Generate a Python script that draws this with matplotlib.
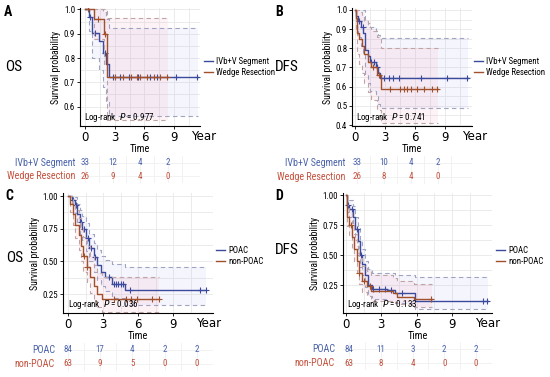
import numpy as np
import matplotlib
matplotlib.use("Agg")
import matplotlib.pyplot as plt
from matplotlib.transforms import blended_transform_factory
from matplotlib.lines import Line2D

plt.rcParams["font.family"] = ["Liberation Sans Narrow", "Roboto Condensed", "Liberation Sans", "DejaVu Sans"]
plt.rcParams["mathtext.fontset"] = "custom"
plt.rcParams["mathtext.it"] = "Liberation Sans Narrow:italic"
plt.rcParams["mathtext.rm"] = "Liberation Sans Narrow"

# ---- panel A: OS, IVb+V Segment vs Wedge Resection ----
a_seg_t = [0, 0.4, 0.7, 1.4, 1.8, 2.1, 2.4]
a_seg_s = [1.0, 0.97, 0.905, 0.87, 0.82, 0.775, 0.72]
a_seg_lo = [1.0, 0.91, 0.80, 0.75, 0.68, 0.62, 0.56]
a_seg_hi = [1.0, 1.0, 1.0, 1.0, 0.99, 0.96, 0.925]
a_seg_end = 11.4
a_seg_cens = [0.5, 1.0, 2.0, 2.8, 3.5, 4.4, 5.3, 6.6, 7.3, 9.2, 11.3]
a_wed_t = [0, 0.9, 1.9, 2.2]
a_wed_s = [1.0, 0.96, 0.90, 0.72]
a_wed_lo = [1.0, 0.88, 0.77, 0.545]
a_wed_hi = [1.0, 1.0, 1.0, 0.965]
a_wed_end = 8.4
a_wed_cens = [0.3, 1.3, 2.0, 3.0, 3.8, 4.6, 5.2, 5.6, 6.3, 7.0, 7.6, 8.3]
a_risk_seg = [33, 12, 4, 2]
a_risk_wed = [26, 9, 4, 0]
a_p = "0.977"

# ---- panel B: DFS, IVb+V Segment vs Wedge Resection ----
b_seg_t = [0, 0.1, 0.3, 0.6, 0.8, 1.0, 1.3, 1.5, 2.1, 2.3, 2.5]
b_seg_s = [1.0, 0.97, 0.94, 0.91, 0.88, 0.79, 0.76, 0.73, 0.70, 0.67, 0.645]
b_seg_lo = [1.0, 0.91, 0.86, 0.81, 0.77, 0.66, 0.62, 0.58, 0.55, 0.51, 0.49]
b_seg_hi = [1.0, 1.0, 1.0, 1.0, 1.0, 0.95, 0.93, 0.91, 0.89, 0.87, 0.855]
b_seg_end = 11.3
b_seg_cens = [0.4, 0.75, 1.6, 1.9, 2.2, 2.9, 3.4, 3.8, 4.4, 6.6, 9.2, 11.2]
b_wed_t = [0, 0.1, 0.2, 0.4, 0.7, 0.9, 1.3, 1.6, 2.2, 2.6]
b_wed_s = [1.0, 0.96, 0.88, 0.85, 0.81, 0.77, 0.73, 0.70, 0.66, 0.59]
b_wed_lo = [1.0, 0.89, 0.77, 0.72, 0.67, 0.62, 0.57, 0.53, 0.48, 0.41]
b_wed_hi = [1.0, 1.0, 1.0, 0.99, 0.97, 0.94, 0.91, 0.89, 0.86, 0.80]
b_wed_end = 8.3
b_wed_cens = [1.8, 2.4, 3.5, 4.5, 4.9, 5.2, 5.6, 6.2, 6.9, 7.7, 8.2]
b_risk_seg = [33, 10, 4, 2]
b_risk_wed = [26, 8, 4, 0]
b_p = "0.741"

# ---- panel C: OS, POAC vs non-POAC ----
c_poac_t = [0, 0.3, 0.6, 0.8, 1.0, 1.2, 1.5, 1.8, 2.2, 2.5, 2.8, 3.2, 3.8, 4.9]
c_poac_s = [1.0, 0.97, 0.93, 0.86, 0.80, 0.75, 0.68, 0.60, 0.53, 0.47, 0.42, 0.38, 0.33, 0.28]
c_poac_lo = [1.0, 0.93, 0.87, 0.79, 0.71, 0.66, 0.58, 0.50, 0.42, 0.36, 0.31, 0.27, 0.22, 0.17]
c_poac_hi = [1.0, 1.0, 0.99, 0.94, 0.89, 0.85, 0.79, 0.71, 0.64, 0.59, 0.54, 0.51, 0.48, 0.46]
c_poac_end = 11.8
c_poac_cens = [0.4, 0.7, 1.1, 1.4, 1.7, 2.0, 2.3, 3.5, 3.9, 4.1, 4.3, 4.5, 4.7, 5.3, 11.3, 11.8]
c_non_t = [0, 0.2, 0.4, 0.6, 0.9, 1.1, 1.3, 1.6, 1.9, 2.2, 2.5, 2.9]
c_non_s = [1.0, 0.94, 0.86, 0.78, 0.70, 0.62, 0.54, 0.46, 0.38, 0.31, 0.25, 0.21]
c_non_lo = [1.0, 0.88, 0.78, 0.68, 0.59, 0.50, 0.42, 0.34, 0.26, 0.20, 0.15, 0.11]
c_non_hi = [1.0, 1.0, 0.95, 0.89, 0.83, 0.76, 0.69, 0.62, 0.54, 0.47, 0.41, 0.38]
c_non_end = 7.8
c_non_cens = [1.4, 1.6, 3.9, 5.0, 5.4, 5.9, 7.2, 7.8]
c_risk_poac = [84, 17, 4, 2, 2]
c_risk_non = [63, 9, 5, 0, 0]
c_p = "0.036"

# ---- panel D: DFS, POAC vs non-POAC ----
d_poac_t = [0, 0.05, 0.3, 0.6, 0.8, 1.0, 1.2, 1.4, 1.6, 1.9, 2.2, 3.5, 4.2, 5.9]
d_poac_s = [1.0, 0.92, 0.89, 0.82, 0.72, 0.62, 0.50, 0.43, 0.33, 0.25, 0.22, 0.21, 0.18, 0.12]
d_poac_lo = [1.0, 0.86, 0.82, 0.74, 0.63, 0.52, 0.40, 0.33, 0.23, 0.16, 0.13, 0.12, 0.10, 0.05]
d_poac_hi = [1.0, 0.98, 0.96, 0.91, 0.82, 0.74, 0.62, 0.55, 0.45, 0.38, 0.35, 0.35, 0.33, 0.32]
d_poac_end = 12.1
d_poac_cens = [0.2, 0.5, 0.9, 1.3, 2.3, 2.8, 3.3, 3.8, 4.8, 11.6, 12.0]
d_non_t = [0, 0.1, 0.3, 0.5, 0.7, 0.9, 1.1, 1.4, 1.8, 2.1, 4.0, 4.3, 5.8]
d_non_s = [1.0, 0.82, 0.75, 0.65, 0.55, 0.45, 0.35, 0.28, 0.24, 0.20, 0.18, 0.15, 0.13]
d_non_lo = [1.0, 0.74, 0.66, 0.55, 0.45, 0.35, 0.26, 0.19, 0.16, 0.12, 0.11, 0.09, 0.07]
d_non_hi = [1.0, 0.92, 0.86, 0.77, 0.68, 0.58, 0.48, 0.41, 0.37, 0.33, 0.31, 0.28, 0.26]
d_non_end = 7.3
d_non_cens = [0.4, 1.1, 1.5, 2.0, 7.2]
d_risk_poac = [84, 11, 3, 2, 2]
d_risk_non = [63, 8, 4, 0, 0]
d_p = "0.133"

risk_t4 = [0, 3, 6, 9]
risk_t5 = [0, 3, 6, 9, 12]

BLUE = "#3b4a9c"
RED = "#a0502a"
BLUE_TXT = "#4a62ab"
RED_TXT = "#c4503c"
BLUE_CI = "#a0a4c0"
RED_CI = "#c0a4a4"
GRID = "#e8e8e8"

W, H = 550, 377
fig = plt.figure(figsize=(5.5, 3.77), dpi=100)


def box(l, t, r, b):
    # pixel box -> figure fraction rect
    return [l / W, 1 - b / H, (r - l) / W, (b - t) / H]


def draw_km(ax, t, s, lo, hi, end, cens, color, ci_color, fill_color):
    t = np.array(t)
    tt = np.append(t, end)
    ax.fill_between(tt, np.append(lo, lo[-1]), np.append(hi, hi[-1]),
                    step="post", color=fill_color, alpha=0.12, lw=0)
    ax.step(tt, np.append(lo, lo[-1]), where="post", color=ci_color, lw=0.8, ls=(0, (4, 3)))
    ax.step(tt, np.append(hi, hi[-1]), where="post", color=ci_color, lw=0.8, ls=(0, (4, 3)))
    ax.step(tt, np.append(s, s[-1]), where="post", color=color, lw=1.0)
    idx = np.searchsorted(t, cens, side="right") - 1
    ax.plot(cens, np.array(s)[idx], ls="none", marker="+", ms=4.5, mew=0.8, color=color)


def main_axes(rect, xlim, ylim, yticks, yfmt, p, title, letter, title_xy, letter_xy):
    ax = fig.add_axes(rect)
    ax.set_xlim(*xlim)
    ax.set_ylim(*ylim)
    ax.set_xticks([0, 3, 6, 9])
    ax.set_xticks([1.5, 4.5, 7.5, 10.5], minor=True)
    ax.set_yticks(yticks)
    ax.set_yticklabels([yfmt % v for v in yticks], fontsize=6.5)
    ax.set_xticklabels(["0", "3", "6", "9"], fontsize=8.5, family="DejaVu Sans")
    mids = [(yticks[i] + yticks[i + 1]) / 2 for i in range(len(yticks) - 1)]
    ax.set_yticks(mids, minor=True)
    ax.grid(True, which="both", color=GRID, lw=0.6)
    ax.set_axisbelow(True)
    ax.tick_params(which="minor", length=0)
    ax.tick_params(length=2, width=0.6, pad=1.5)
    for side in ["top", "right"]:
        ax.spines[side].set_visible(False)
    for side in ["left", "bottom"]:
        ax.spines[side].set_linewidth(0.8)
    ax.set_ylabel("Survival probability", fontsize=7, labelpad=2)
    ax.set_xlabel("Time", fontsize=7.5, labelpad=0)
    tr = blended_transform_factory(ax.transData, ax.transAxes)
    ax.text(12, -0.035, "Year", transform=tr, ha="center", va="top", fontsize=8.5,
            family="DejaVu Sans", clip_on=False)
    ax.text(0.03, 0.02, "Log-rank  $\\it{P}$ = " + p, transform=ax.transAxes,
            fontsize=6.5, ha="left", va="bottom")
    fig.text(title_xy[0] / W, 1 - title_xy[1] / H, title, fontsize=11, ha="left", va="center")
    fig.text(letter_xy[0] / W, 1 - letter_xy[1] / H, letter, fontsize=10,
             fontweight="bold", ha="left", va="center")
    return ax


def risk_table(rect, xlim, times, top_vals, bot_vals, top_lab, bot_lab, lab_right_px, left_px, width_px):
    ax = fig.add_axes(rect)
    ax.set_xlim(*xlim)
    ax.set_ylim(-0.5, 1.5)
    for side in ax.spines.values():
        side.set_visible(False)
    ax.set_xticks(times)
    ax.set_yticks([0, 1])
    ax.set_xticks([v + 1.5 for v in times], minor=True)
    ax.grid(True, which="both", color="#f0f0f0", lw=0.6)
    ax.tick_params(which="both", length=0, labelbottom=False, labelleft=False)
    for x, v in zip(times, top_vals):
        ax.text(x, 1, str(v), color=BLUE_TXT, fontsize=6.5, ha="center", va="center")
    for x, v in zip(times, bot_vals):
        ax.text(x, 0, str(v), color=RED_TXT, fontsize=6.5, ha="center", va="center")
    fx = (lab_right_px - left_px) / width_px
    tr = blended_transform_factory(ax.transAxes, ax.transData)
    ax.text(fx, 1, top_lab, transform=tr, color=BLUE_TXT, fontsize=7.2, ha="right", va="center", clip_on=False)
    ax.text(fx, 0, bot_lab, transform=tr, color=RED_TXT, fontsize=7.2, ha="right", va="center", clip_on=False)
    return ax


def legend(x_px, y_px, labels):
    handles = [Line2D([0], [0], color=BLUE, lw=1.0), Line2D([0], [0], color=RED, lw=1.0)]
    fig.legend(handles, labels, loc="upper left", bbox_to_anchor=(x_px / W, 1 - y_px / H),
               frameon=False, fontsize=6.3, handlelength=1.0, handletextpad=0.4,
               labelspacing=0.25, borderpad=0, borderaxespad=0)


# A
axA = main_axes(box(80, 8, 200, 126), (-0.5, 11.6), (0.52, 1.006),
                [0.6, 0.7, 0.8, 0.9, 1.0], "%.1f", a_p, "OS", "A", (5, 67), (4, 12))
draw_km(axA, a_seg_t, a_seg_s, a_seg_lo, a_seg_hi, a_seg_end, a_seg_cens, BLUE, BLUE_CI, "#b0b0f0")
draw_km(axA, a_wed_t, a_wed_s, a_wed_lo, a_wed_hi, a_wed_end, a_wed_cens, RED, RED_CI, "#f5a0b8")
legend(204, 57, ["IVb+V Segment", "Wedge Resection"])
risk_table(box(80, 156, 200, 183), (-0.54, 12.5), risk_t4, a_risk_seg, a_risk_wed,
           "IVb+V Segment", "Wedge Resection", 75, 80, 120)

# B
axB = main_axes(box(352, 8, 472, 126), (-0.3, 11.7), (0.395, 1.01),
                [0.4, 0.5, 0.6, 0.7, 0.8, 0.9, 1.0], "%.1f", b_p, "DFS", "B", (275, 67), (275, 12))
draw_km(axB, b_seg_t, b_seg_s, b_seg_lo, b_seg_hi, b_seg_end, b_seg_cens, BLUE, BLUE_CI, "#b0b0f0")
draw_km(axB, b_wed_t, b_wed_s, b_wed_lo, b_wed_hi, b_wed_end, b_wed_cens, RED, RED_CI, "#f5a0b8")
legend(474, 57, ["IVb+V Segment", "Wedge Resection"])
risk_table(box(352, 156, 472, 184), (-0.55, 12.8), risk_t4, b_risk_seg, b_risk_wed,
           "IVb+V Segment", "Wedge Resection", 345, 352, 120)

# C
axC = main_axes(box(63, 193, 213, 313), (-0.43, 12.4), (0.105, 1.023),
                [0.25, 0.5, 0.75, 1.0], "%.2f", c_p, "OS", "C", (6, 258), (5, 196))
draw_km(axC, c_poac_t, c_poac_s, c_poac_lo, c_poac_hi, c_poac_end, c_poac_cens, BLUE, BLUE_CI, "#b0b0f0")
draw_km(axC, c_non_t, c_non_s, c_non_lo, c_non_hi, c_non_end, c_non_cens, RED, RED_CI, "#f5a0b8")
legend(216, 246, ["POAC", "non-POAC"])
risk_table(box(63, 343, 213, 371), (-0.46, 13.4), risk_t5, c_risk_poac, c_risk_non,
           "POAC", "non-POAC", 55, 63, 150)

# D
axD = main_axes(box(343, 193, 492, 313), (-0.25, 12.4), (0.016, 1.02),
                [0.25, 0.5, 0.75, 1.0], "%.2f", d_p, "DFS", "D", (275, 250), (275, 196))
draw_km(axD, d_poac_t, d_poac_s, d_poac_lo, d_poac_hi, d_poac_end, d_poac_cens, BLUE, BLUE_CI, "#b0b0f0")
draw_km(axD, d_non_t, d_non_s, d_non_lo, d_non_hi, d_non_end, d_non_cens, RED, RED_CI, "#f5a0b8")
legend(496, 246, ["POAC", "non-POAC"])
risk_table(box(343, 342, 492, 370), (-0.56, 13.4), risk_t5, d_risk_poac, d_risk_non,
           "POAC", "non-POAC", 335, 343, 149)

fig.savefig("out.png", dpi=100)
